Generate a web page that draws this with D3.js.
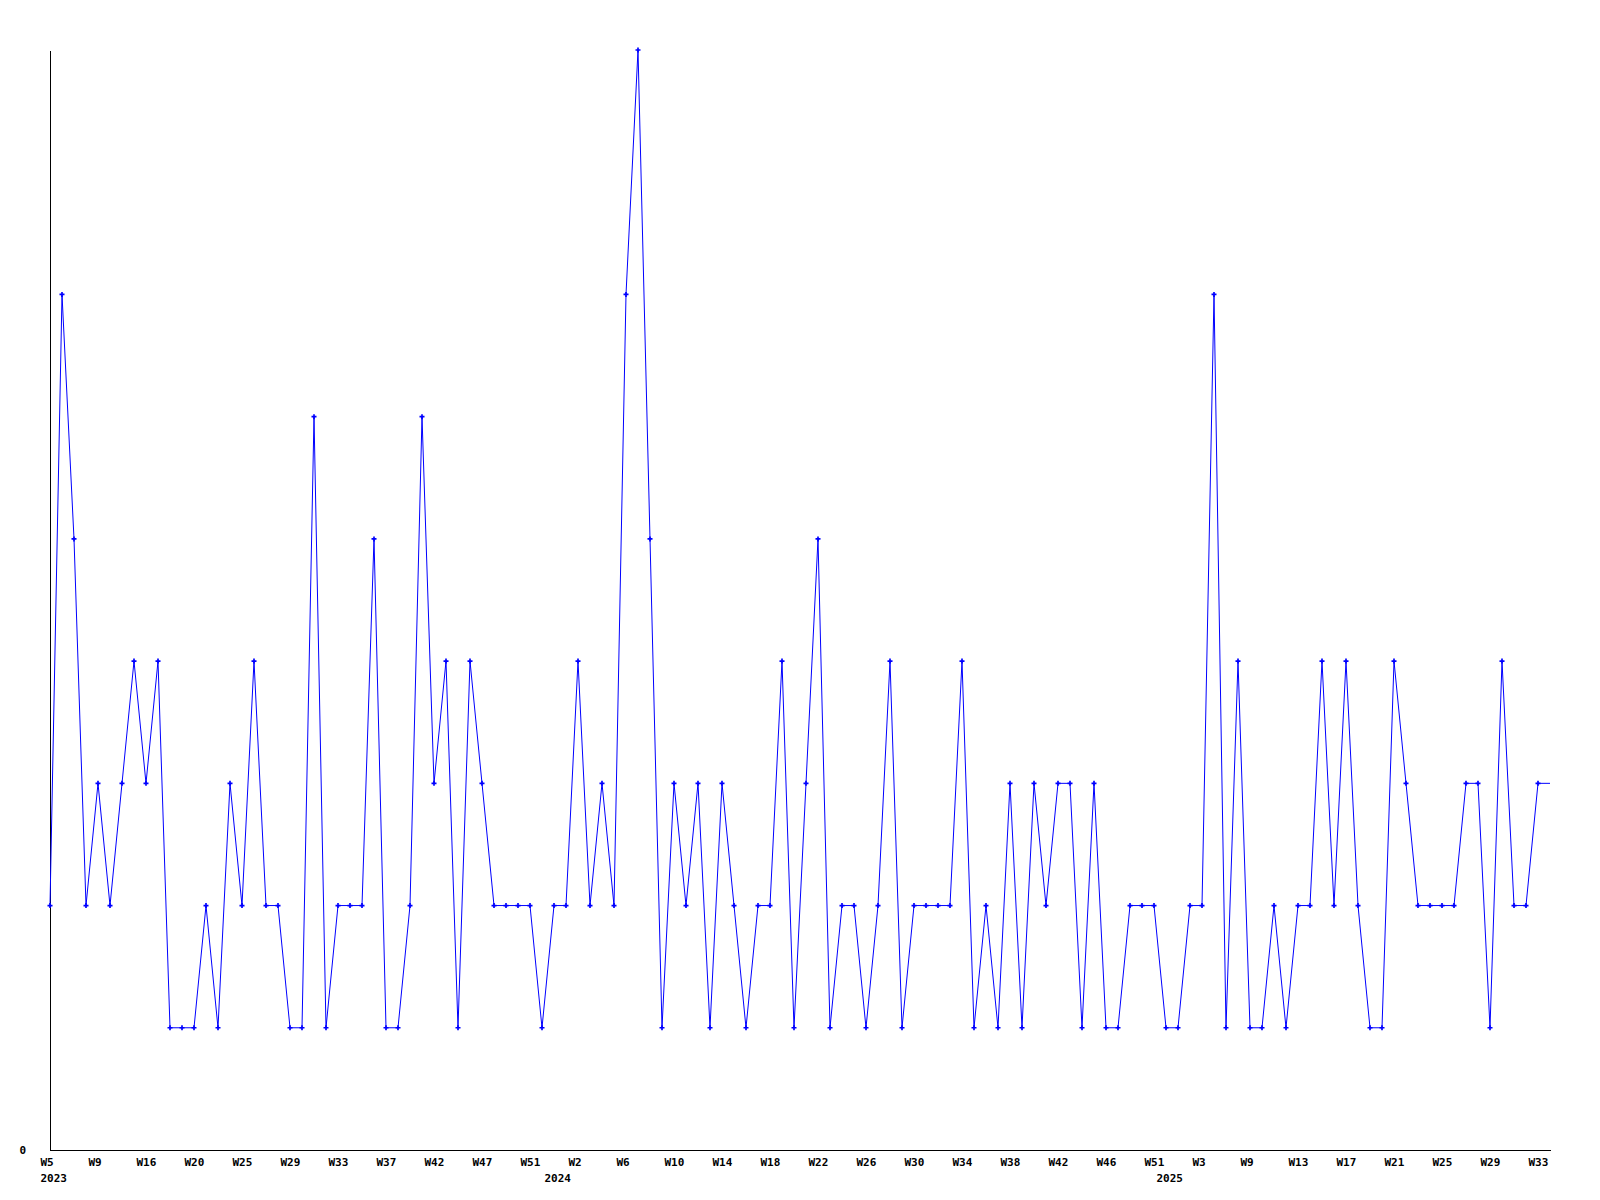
<!DOCTYPE html>
<html>
<head>
<meta charset="utf-8">
<script src="https://cdn.jsdelivr.net/npm/d3@7"></script>
<style>
  html, body { margin: 0; padding: 0; background: #fff; }
  svg { display: block; }
  .axis text { font-family: "DejaVu Sans Mono", monospace; font-weight: bold; font-size: 11px; fill: #000; }
</style>
</head>
<body>
<svg id="chart" width="1600" height="1200"></svg>
<script>
// Weekly series values (one per week point)
const values = [
  2, 7, 5, 2, 3, 2, 3, 4, 3, 4,
  1, 1, 1, 2, 1, 3, 2, 4, 2, 2,
  1, 1, 6, 1, 2, 2, 2, 5, 1, 1,
  2, 6, 3, 4, 1, 4, 3, 2, 2, 2,
  2, 1, 2, 2, 4, 2, 3, 2, 7, 9,
  5, 1, 3, 2, 3, 1, 3, 2, 1, 2,
  2, 4, 1, 3, 5, 1, 2, 2, 1, 2,
  4, 1, 2, 2, 2, 2, 4, 1, 2, 1,
  3, 1, 3, 2, 3, 3, 1, 3, 1, 1,
  2, 2, 2, 1, 1, 2, 2, 7, 1, 4,
  1, 1, 2, 1, 2, 2, 4, 2, 4, 2,
  1, 1, 4, 3, 2, 2, 2, 2, 3, 3,
  1, 4, 2, 2, 3, 3
];

// Week tick labels, shown every 4th point
const tickLabels = [
  "W5", "W9", "W16", "W20", "W25", "W29", "W33", "W37", "W42", "W47", "W51",
  "W2", "W6", "W10", "W14", "W18", "W22", "W26", "W30", "W34", "W38", "W42", "W46", "W51",
  "W3", "W9", "W13", "W17", "W21", "W25", "W29", "W33"
];
const tickStep = 4;

// Year labels and the point index where each year begins
const yearLabels = ["2023", "2024", "2025"];
const yearStarts = [0, 42, 93];

const yMax = 9;
const yTicks = [0];

const svg = d3.select("#chart");
const margin = { left: 50, right: 50, top: 50, bottom: 50 };
const W = 1600, H = 1200;

const x = d3.scaleLinear().domain([0, values.length - 1]).range([margin.left, W - margin.right]);
const y = d3.scaleLinear().domain([0, yMax]).range([H - margin.bottom, margin.top]);

// X axis (week labels)
const tickIdx = tickLabels.map((_, k) => k * tickStep);
const xAxis = d3.axisBottom(x)
  .tickValues(tickIdx)
  .tickFormat((d, k) => tickLabels[k])
  .tickSize(0)
  .tickSizeOuter(0)
  .tickPadding(8);
const gx = svg.append("g").attr("class", "axis")
  .attr("transform", `translate(0,${H - margin.bottom})`)
  .call(xAxis);
gx.select(".domain").attr("stroke", "#000").attr("stroke-width", 1).attr("shape-rendering", "crispEdges");
gx.selectAll(".tick text").attr("text-anchor", "start").attr("dx", -10).attr("dy", "0.71em");

// Year labels as second row using the same scale
const gy2 = svg.append("g").attr("class", "axis")
  .attr("transform", `translate(0,${H - margin.bottom})`)
  .call(d3.axisBottom(x)
    .tickValues(yearStarts)
    .tickFormat((d, k) => yearLabels[k])
    .tickSize(0)
    .tickSizeOuter(0)
    .tickPadding(24));
gy2.select(".domain").remove();
gy2.selectAll(".tick text").attr("text-anchor", "start").attr("dx", -10).attr("dy", "0.71em");

// Y axis
const gy = svg.append("g").attr("class", "axis")
  .attr("transform", `translate(${margin.left},0)`)
  .call(d3.axisLeft(y).tickValues(yTicks).tickFormat(d3.format("d")).tickSize(0).tickSizeOuter(0).tickPadding(24));
gy.select(".domain").attr("stroke", "#000").attr("stroke-width", 1).attr("shape-rendering", "crispEdges");

// Line
const line = d3.line().x((d, i) => x(i)).y(d => y(d));
svg.append("path")
  .datum(values)
  .attr("fill", "none")
  .attr("stroke", "#0000ff")
  .attr("stroke-width", 1)
  .attr("d", line);

// Markers (every point except the trailing one)
svg.append("g").selectAll("path")
  .data(values.slice(0, values.length - 1))
  .join("path")
  .attr("transform", (d, i) => `translate(${x(i)},${y(d)})`)
  .attr("d", d3.symbol(d3.symbolCross, 14))
  .attr("fill", "#0000ff");
</script>
</body>
</html>
